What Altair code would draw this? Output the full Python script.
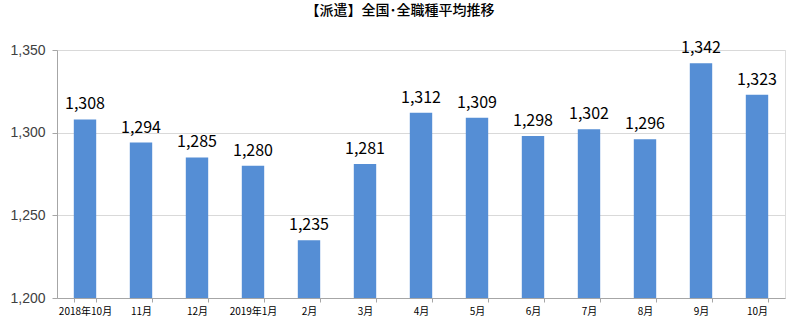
import altair as alt
import pandas as pd

months = ["2018年10月", "11月", "12月", "2019年1月", "2月", "3月", "4月",
          "5月", "6月", "7月", "8月", "9月", "10月"]
values = [1308, 1294, 1285, 1280, 1235, 1281, 1312, 1309, 1298, 1302, 1296, 1342, 1323]
y_ticks = [1200, 1250, 1300, 1350]

df = pd.DataFrame({"month": months, "value": values})
df["label"] = df["value"].map(lambda v: f"{v:,}")

FONT = "Noto Sans CJK JP"

yscale = alt.Scale(domain=[1200, 1350], zero=False, nice=False, clamp=True)

x = alt.X("month:N", sort=months, title=None,
          scale=alt.Scale(paddingInner=0.6, paddingOuter=0.3),
          axis=alt.Axis(labelAngle=0, labelFont=FONT, labelFontSize=10,
                        labelColor="#000000", tickBand="extent", tickSize=4,
                        tickColor="#a6a6a6", domainColor="#a6a6a6",
                        labelPadding=4, grid=False))
y = alt.Y("value:Q", title=None, scale=yscale,
          axis=alt.Axis(values=y_ticks, labelExpr="format(datum.value, ',')",
                        labelFont="Liberation Sans", labelFontSize=14,
                        labelColor="#404040", tickSize=5, tickColor="#a6a6a6",
                        domainColor="#a6a6a6", gridColor="#d9d9d9",
                        labelPadding=7))

bars = alt.Chart(df).mark_bar(color="#558ED5").encode(
    x=x, y=y, y2=alt.datum(1200))

labels = alt.Chart(df).mark_text(
    font=FONT, fontSize=16, color="#000000", dy=-15
).encode(x=x, y=y, text="label:N")

chart = alt.layer(bars, labels).properties(
    width=728, height=248,
    autosize=alt.AutoSizeParams(type="none"),
    padding={"left": 57, "top": 50, "right": 15, "bottom": 29},
    title=alt.TitleParams("【派遣】全国･全職種平均推移", font=FONT, fontSize=14,
                          fontWeight=500, color="#000000", anchor="middle",
                          dx=-21, offset=22),
).configure_view(stroke=None).configure(background="white")

chart.save("out.html", embed_options={"renderer": "svg", "actions": False})
